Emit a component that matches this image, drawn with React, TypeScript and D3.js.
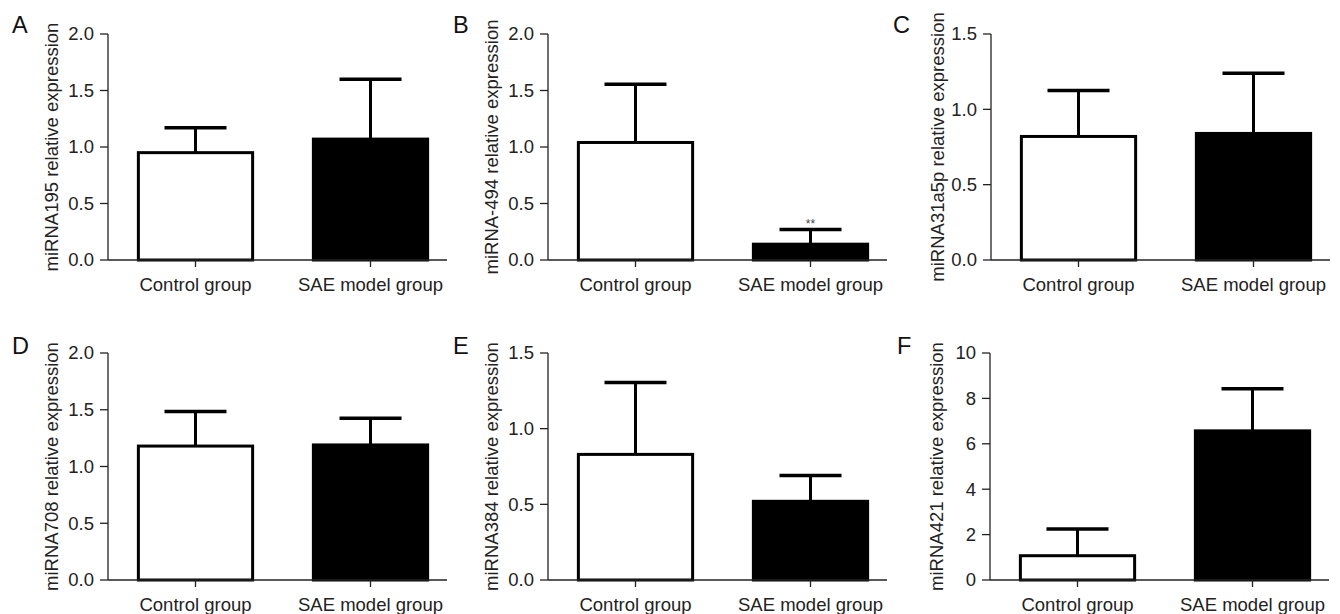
import React, { useEffect, useRef } from "react";
import * as d3 from "d3";

// groups on the x axis, same for every panel
const groups = ["Control group", "SAE model group"];
const letters = ["A", "B", "C", "D", "E", "F"];
const yTitles = [
  "miRNA195 relative expression",
  "miRNA-494 relative expression",
  "miRNA31a5p relative expression",
  "miRNA708 relative expression",
  "miRNA384 relative expression",
  "miRNA421 relative expression",
];
// means per panel [control, SAE]
const means = [
  [0.95, 1.07],
  [1.04, 0.14],
  [0.82, 0.84],
  [1.18, 1.19],
  [0.83, 0.52],
  [1.07, 6.57],
];
// upper error (SD) per panel
const sds = [
  [0.22, 0.53],
  [0.515, 0.13],
  [0.305, 0.4],
  [0.305, 0.235],
  [0.475, 0.17],
  [1.18, 1.86],
];
const yMaxes = [2, 2, 1.5, 2, 1.5, 10];
const yStep = [0.5, 0.5, 0.5, 0.5, 0.5, 2];
// significance marks, only panel B / SAE
const stars = [
  ["", ""],
  ["", "**"],
  ["", ""],
  ["", ""],
  ["", ""],
  ["", ""],
];

const W = 1340;
const H = 614;
const FONT = "'Liberation Sans', Arial, Helvetica, sans-serif";

// where each panel's y axis sits, and its vertical extent
const axisX = [108, 548, 991, 108, 548, 990];
const rowTop = [34, 34, 34, 353, 353, 353];
const rowBottom = [260, 260, 260, 580, 580, 580];

export default function App() {
  const ref = useRef<SVGSVGElement>(null);

  useEffect(() => {
    document.body.style.margin = "0";
    const svg = d3.select(ref.current);
    svg.selectAll("*").remove();

    letters.forEach((letter, p) => {
      const ax = axisX[p];
      const g = svg.append("g");

      const x = d3.scaleBand()
        .domain(groups)
        .range([ax, ax + 350])
        .paddingInner(0.33)
        .paddingOuter(0.165);

      const y = d3.scaleLinear()
        .domain([0, yMaxes[p]])
        .range([rowBottom[p], rowTop[p]]);

      const ticks = d3.range(0, yMaxes[p] + 1e-9, yStep[p]);
      const fmt = yStep[p] >= 1 ? d3.format("d") : d3.format(".1f");

      groups.forEach((grp, i) => {
        const bx = x(grp)!;
        const bw = x.bandwidth();
        g.append("rect")
          .attr("x", bx + 1.5)
          .attr("y", y(means[p][i]))
          .attr("width", bw - 3)
          .attr("height", y(0) - y(means[p][i]))
          .attr("fill", i === 0 ? "#fff" : "#000")
          .attr("stroke", "#000")
          .attr("stroke-width", 3);

        // error bar (upper only)
        const cx = bx + bw / 2;
        const top = y(means[p][i] + sds[p][i]);
        g.append("line")
          .attr("x1", cx).attr("x2", cx)
          .attr("y1", y(means[p][i])).attr("y2", top)
          .attr("stroke", "#000").attr("stroke-width", 3);
        g.append("line")
          .attr("x1", cx - 31).attr("x2", cx + 31)
          .attr("y1", top).attr("y2", top)
          .attr("stroke", "#000").attr("stroke-width", 3.5);

        if (stars[p][i]) {
          g.append("text")
            .attr("x", cx).attr("y", top - 1)
            .attr("text-anchor", "middle")
            .attr("font-family", FONT)
            .attr("font-size", 12)
            .attr("fill", "#444")
            .text(stars[p][i]);
        }

        // x ticks + labels
        g.append("line")
          .attr("x1", cx).attr("x2", cx)
          .attr("y1", y(0)).attr("y2", y(0) + 7)
          .attr("stroke", "#222").attr("stroke-width", 1.3);
        g.append("text")
          .attr("x", cx).attr("y", y(0) + 31)
          .attr("text-anchor", "middle")
          .attr("font-family", FONT)
          .attr("font-size", 18.5)
          .attr("fill", "#222")
          .text(grp);
      });

      // axes
      g.append("line")
        .attr("x1", ax).attr("x2", ax + 339)
        .attr("y1", y(0)).attr("y2", y(0))
        .attr("stroke", "#222").attr("stroke-width", 1.3);
      g.append("line")
        .attr("x1", ax).attr("x2", ax)
        .attr("y1", y(0)).attr("y2", y(yMaxes[p]))
        .attr("stroke", "#222").attr("stroke-width", 1.3);

      ticks.forEach(t => {
        g.append("line")
          .attr("x1", ax - 8).attr("x2", ax)
          .attr("y1", y(t)).attr("y2", y(t))
          .attr("stroke", "#222").attr("stroke-width", 1.3);
        g.append("text")
          .attr("x", ax - 14).attr("y", y(t))
          .attr("dy", "0.35em")
          .attr("text-anchor", "end")
          .attr("font-family", FONT)
          .attr("font-size", 18.5)
          .attr("fill", "#222")
          .text(fmt(t));
      });

      // y title
      const midY = (rowTop[p] + rowBottom[p]) / 2;
      const tx = ax - (p === 2 || p === 5 ? 53 : 56);
      g.append("text")
        .attr("transform", `translate(${tx},${midY}) rotate(-90)`)
        .attr("text-anchor", "middle")
        .attr("dy", "0.35em")
        .attr("font-family", FONT)
        .attr("font-size", 18.5)
        .attr("fill", "#222")
        .text(yTitles[p]);

      // panel letter
      const lx = [12, 453, 893, 12, 453, 897][p];
      g.append("text")
        .attr("x", lx)
        .attr("y", p < 3 ? rowTop[p] - 1 : rowTop[p] + 1)
        .attr("font-family", FONT)
        .attr("font-size", 23.5)
        .attr("fill", "#111")
        .text(letter);
    });
  }, []);

  return <svg ref={ref} width={W} height={H} style={{ display: "block", background: "#fff" }} />;
}
